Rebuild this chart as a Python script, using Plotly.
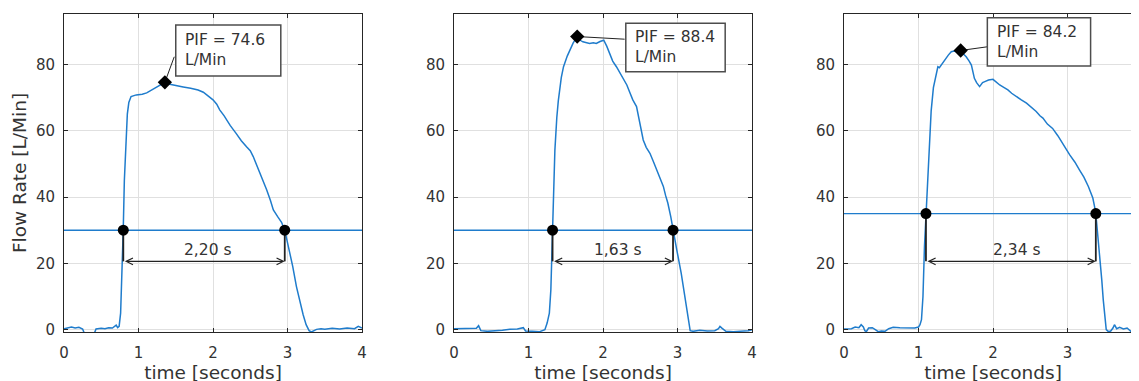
import plotly.graph_objects as go

# ---------------- data ----------------
t1 = [0, 0.05, 0.1, 0.15, 0.2, 0.25, 0.28, 0.3, 0.35, 0.4, 0.43, 0.5, 0.55, 0.6, 0.65, 0.7, 0.72, 0.74,
      0.76, 0.78, 0.795, 0.81, 0.83, 0.85, 0.87, 0.9, 0.97, 1.05, 1.11, 1.18, 1.24, 1.3, 1.354, 1.42, 1.51,
      1.6, 1.7, 1.8, 1.87, 1.94, 2.0, 2.05, 2.09, 2.15, 2.23, 2.31, 2.38, 2.45, 2.5, 2.54, 2.6, 2.63, 2.68,
      2.72, 2.77, 2.81, 2.87, 2.92, 2.963, 3.0, 3.07, 3.12, 3.16, 3.21, 3.25, 3.29, 3.32, 3.36, 3.39, 3.45,
      3.5, 3.6, 3.7, 3.8, 3.9, 3.95, 4.0]
f1 = [0.3, 0.6, 0.8, 0.5, 0.7, 0.2, -1.5, -1.5, -1.5, -1.5, 0.2, 0.4, 0.3, 0.6, 0.5, 1.4, 0.6, 1.0,
      5, 18, 30, 45, 57, 65, 68.5, 70.3, 70.8, 71.0, 71.4, 72.3, 73.0, 73.8, 74.6, 74.0, 73.5,
      73.2, 72.8, 72.3, 71.6, 70.5, 69.3, 68.0, 66.3, 64.5, 61.6, 59.2, 57.0, 55.2, 54.0, 52.2, 49.0, 47.2, 44.5,
      42.2, 39.0, 36.1, 34.0, 32.4, 30.0, 26.5, 19.1, 13.0, 9.0, 4.5, 1.5, -0.3, -0.7, -0.2, 0.1, 0.3,
      0.1, 0.4, 0.2, 0.5, 0.3, 1.0, 0.5]

t2 = [0, 0.1, 0.2, 0.3, 0.33, 0.36, 0.45, 0.55, 0.65, 0.75, 0.85, 0.93, 0.96, 1.05, 1.15, 1.22, 1.25, 1.28,
      1.3, 1.323, 1.34, 1.354, 1.38, 1.4, 1.44, 1.47, 1.52, 1.555, 1.6, 1.654, 1.7, 1.73, 1.78, 1.82, 1.87,
      1.91, 1.96, 2.01, 2.05, 2.09, 2.13, 2.18, 2.23, 2.28, 2.32, 2.36, 2.4, 2.45, 2.5, 2.54, 2.58, 2.63,
      2.68, 2.72, 2.77, 2.81, 2.84, 2.87, 2.91, 2.94, 2.99, 3.05, 3.09, 3.12, 3.15, 3.17, 3.21, 3.3, 3.4,
      3.5, 3.55, 3.57, 3.6, 3.65, 3.75, 3.85, 3.95, 4.0]
f2 = [0.3, 0.3, 0.2, 0.4, 1.2, -0.3, -0.5, -0.4, -0.2, 0.1, 0.2, 0.6, -0.4, -0.5, -0.6, 0.0, 2.0, 5.0,
      12, 30, 45, 54, 64, 69, 76, 79.3, 82.5, 84.3, 86.5, 88.4, 87.2, 86.8, 86.5, 86.3, 86.5,
      86.3, 86.9, 87.3, 85.5, 83.3, 81.0, 79.3, 77.3, 75.5, 73.8, 71.5, 69.3, 67.3, 62.0, 57.2, 55.0, 53.2,
      50.5, 48.2, 45.5, 43.2, 40.5, 38.2, 34.0, 30.0, 24.1, 17.0, 11.0, 7.0, 2.0, -0.3, -0.5, -0.2, -0.4,
      -0.3, 0.3, 1.0, 0.4, -0.5, -0.6, -0.5, -0.3, 0.0]

t3 = [0, 0.1, 0.15, 0.2, 0.23, 0.26, 0.28, 0.3, 0.33, 0.38, 0.42, 0.46, 0.5, 0.55, 0.6, 0.66, 0.75, 0.85,
      0.95, 1.0, 1.02, 1.04, 1.06, 1.08, 1.1, 1.12, 1.15, 1.17, 1.2, 1.24, 1.26, 1.28, 1.31, 1.35, 1.4, 1.44,
      1.48, 1.51, 1.566, 1.6, 1.64, 1.68, 1.71, 1.75, 1.78, 1.82, 1.86, 1.89, 1.94, 2.0, 2.05, 2.09, 2.15,
      2.2, 2.25, 2.31, 2.38, 2.45, 2.52, 2.58, 2.63, 2.67, 2.73, 2.8, 2.87, 2.94, 2.98, 3.03, 3.1, 3.16,
      3.22, 3.28, 3.31, 3.34, 3.36, 3.38, 3.4, 3.43, 3.46, 3.48, 3.5, 3.52, 3.55, 3.58, 3.61, 3.63, 3.66,
      3.7, 3.75, 3.8, 3.85, 3.9, 3.95, 4.0]
f3 = [0.2, 0.3, 0.8, 0.6, 1.5, 0.8, -0.3, -0.6, 0.5, 0.6, 0.0, -0.6, -0.4, -0.5, 0.3, 0.7, 0.6, 0.5,
      0.5, 0.8, 1.5, 3.0, 10, 25, 35, 45, 57, 66, 73, 77.3, 79.3, 79.0, 80.0, 81.3, 82.8, 83.8,
      84.0, 83.8, 84.2, 83.2, 82.3, 81.0, 79.8, 75.8, 74.5, 73.3, 74.5, 74.8, 75.3, 75.5, 74.5, 73.8, 73.0,
      72.3, 71.3, 70.3, 69.3, 68.3, 67.0, 65.8, 64.5, 63.8, 62.0, 60.7, 58.5, 56.2, 54.5, 52.7, 50.5, 48.2,
      46.0, 43.2, 41.5, 39.7, 37.5, 35.0, 30.0, 23.1, 15.0, 9.0, 4.0, 0.0, -0.6, -0.4, 0.5, 1.5, 0.3,
      0.7, 0.2, 0.5, -0.5, 0.3, 0.0, 0.0]

times = [t1, t2, t3]
flows = [f1, f2, f3]
pif_time = [1.354, 1.654, 1.566]
pif_value = [74.6, 88.4, 84.2]
pif_labels = ["PIF = 74.6<br>L/Min", "PIF = 88.4<br>L/Min", "PIF = 84.2<br>L/Min"]
threshold = [30, 30, 35]
cross_start = [0.796, 1.323, 1.10]
cross_end = [2.963, 2.94, 3.38]
duration_labels = ["2,20 s", "1,63 s", "2,34 s"]
x_ticks = [0, 1, 2, 3, 4]
y_ticks = [0, 20, 40, 60, 80]

# ---------------- styling / placement ----------------
BLUE = "#1f7ccc"
TXT = "#333333"
AX = "#262626"
GRID = "#e0e0e0"
FONT = "DejaVu Sans"

box_x0 = [1.50, 2.306, 1.924]
box_x1 = [2.91, 3.64, 3.31]
box_y0 = [76.5, 77.8, 79.5]
box_y1 = [91.9, 92.4, 94.1]
leader_end = [(1.48, 82.3), (2.29, 87.6), (1.92, 85.3)]
dim_level = 20.6
label_shift = [0.05, 0.07, 0.08]

# the page body has an 8 px default margin, so figure pixels = screen pixels - 8
W, H = 1139, 381
OFF = 8
ml, mt = 64 - OFF, 14 - OFF
mb = H - (332 - OFF)
mr = W - (1142 - OFF)
pw = W - ml - mr
panel_px = [(64, 362), (454, 752), (844, 1142)]
domains = [[(a - OFF - ml) / pw, (b - OFF - ml) / pw] for a, b in panel_px]

fig = go.Figure()
layout = dict(
    width=W, height=H,
    margin=dict(l=ml, r=mr, t=mt, b=mb),
    paper_bgcolor="white", plot_bgcolor="white",
    showlegend=False,
    font=dict(family=FONT, color=TXT, size=15),
)

shapes = []
annotations = []

for i in range(3):
    sfx = "" if i == 0 else str(i + 1)
    xr = "x" + sfx
    yr = "y" + sfx

    fig.add_trace(go.Scatter(x=[x_ticks[0], x_ticks[-1]], y=[threshold[i], threshold[i]], mode="lines",
                             line=dict(color=BLUE, width=1.4), xaxis=xr, yaxis=yr, hoverinfo="skip"))
    fig.add_trace(go.Scatter(x=times[i], y=flows[i], mode="lines", line=dict(color=BLUE, width=1.5),
                             xaxis=xr, yaxis=yr))
    for cx in (cross_start[i], cross_end[i]):
        fig.add_trace(go.Scatter(x=[cx, cx], y=[threshold[i], dim_level], mode="lines",
                                 line=dict(color="#222222", width=1.8), xaxis=xr, yaxis=yr, hoverinfo="skip"))
    fig.add_trace(go.Scatter(x=[pif_time[i], leader_end[i][0]], y=[pif_value[i], leader_end[i][1]],
                             mode="lines", line=dict(color="#222222", width=1.0), xaxis=xr, yaxis=yr,
                             hoverinfo="skip"))
    fig.add_trace(go.Scatter(x=[cross_start[i], cross_end[i]], y=[threshold[i], threshold[i]], mode="markers",
                             marker=dict(symbol="circle", size=11, color="black"), xaxis=xr, yaxis=yr))
    fig.add_trace(go.Scatter(x=[pif_time[i]], y=[pif_value[i]], mode="markers",
                             marker=dict(symbol="diamond", size=11, color="black"), xaxis=xr, yaxis=yr))

    shapes.append(dict(type="rect", xref=xr, yref=yr, x0=box_x0[i], x1=box_x1[i], y0=box_y0[i], y1=box_y1[i],
                       line=dict(color="#4d4d4d", width=1.5), fillcolor="white", layer="above"))
    annotations.append(dict(xref=xr, yref=yr, x=box_x0[i] + 0.1, y=(box_y0[i] + box_y1[i]) / 2,
                            text=pif_labels[i], showarrow=False, xanchor="left", yanchor="middle",
                            align="left", font=dict(size=15.5, color=TXT, family=FONT)))
    annotations.append(dict(xref=xr, yref=yr, axref=xr, ayref=yr, x=cross_end[i], y=dim_level,
                            ax=cross_start[i], ay=dim_level, text="", showarrow=True, arrowhead=5,
                            arrowside="end+start", arrowsize=1.1, arrowwidth=1.2, arrowcolor="#222222",
                            standoff=0, startstandoff=0))
    annotations.append(dict(xref=xr, yref=yr, x=(cross_start[i] + cross_end[i]) / 2 + label_shift[i],
                            y=24.0, text=duration_labels[i], showarrow=False, xanchor="center",
                            yanchor="middle", font=dict(size=15.5, color=TXT, family=FONT)))

    layout["xaxis" + sfx] = dict(
        domain=domains[i], anchor=yr, range=[0, 4], tickvals=x_ticks, ticks="inside", ticklen=4,
        tickcolor=AX, showline=True, linecolor=AX, linewidth=1, mirror="allticks", showgrid=True,
        gridcolor=GRID, gridwidth=1, zeroline=False, automargin=False, ticklabelstandoff=7,
        tickfont=dict(size=15, color=TXT, family=FONT),
        title=dict(text="time [seconds]", font=dict(size=18.5, color=TXT, family=FONT), standoff=3),
    )
    layout["yaxis" + sfx] = dict(
        domain=[0, 1], anchor=xr, range=[-0.7, 95.2], tickvals=y_ticks, ticks="inside", ticklen=4,
        tickcolor=AX, showline=True, linecolor=AX, linewidth=1, mirror="allticks", showgrid=True,
        gridcolor=GRID, gridwidth=1, zeroline=False, automargin=False, ticklabelstandoff=5,
        tickfont=dict(size=15, color=TXT, family=FONT),
        title=dict(text="Flow Rate [L/Min]" if i == 0 else "",
                   font=dict(size=18.5, color=TXT, family=FONT), standoff=4),
    )

layout["shapes"] = shapes
layout["annotations"] = annotations
fig.update_layout(**layout)
fig.write_html("out.html")
